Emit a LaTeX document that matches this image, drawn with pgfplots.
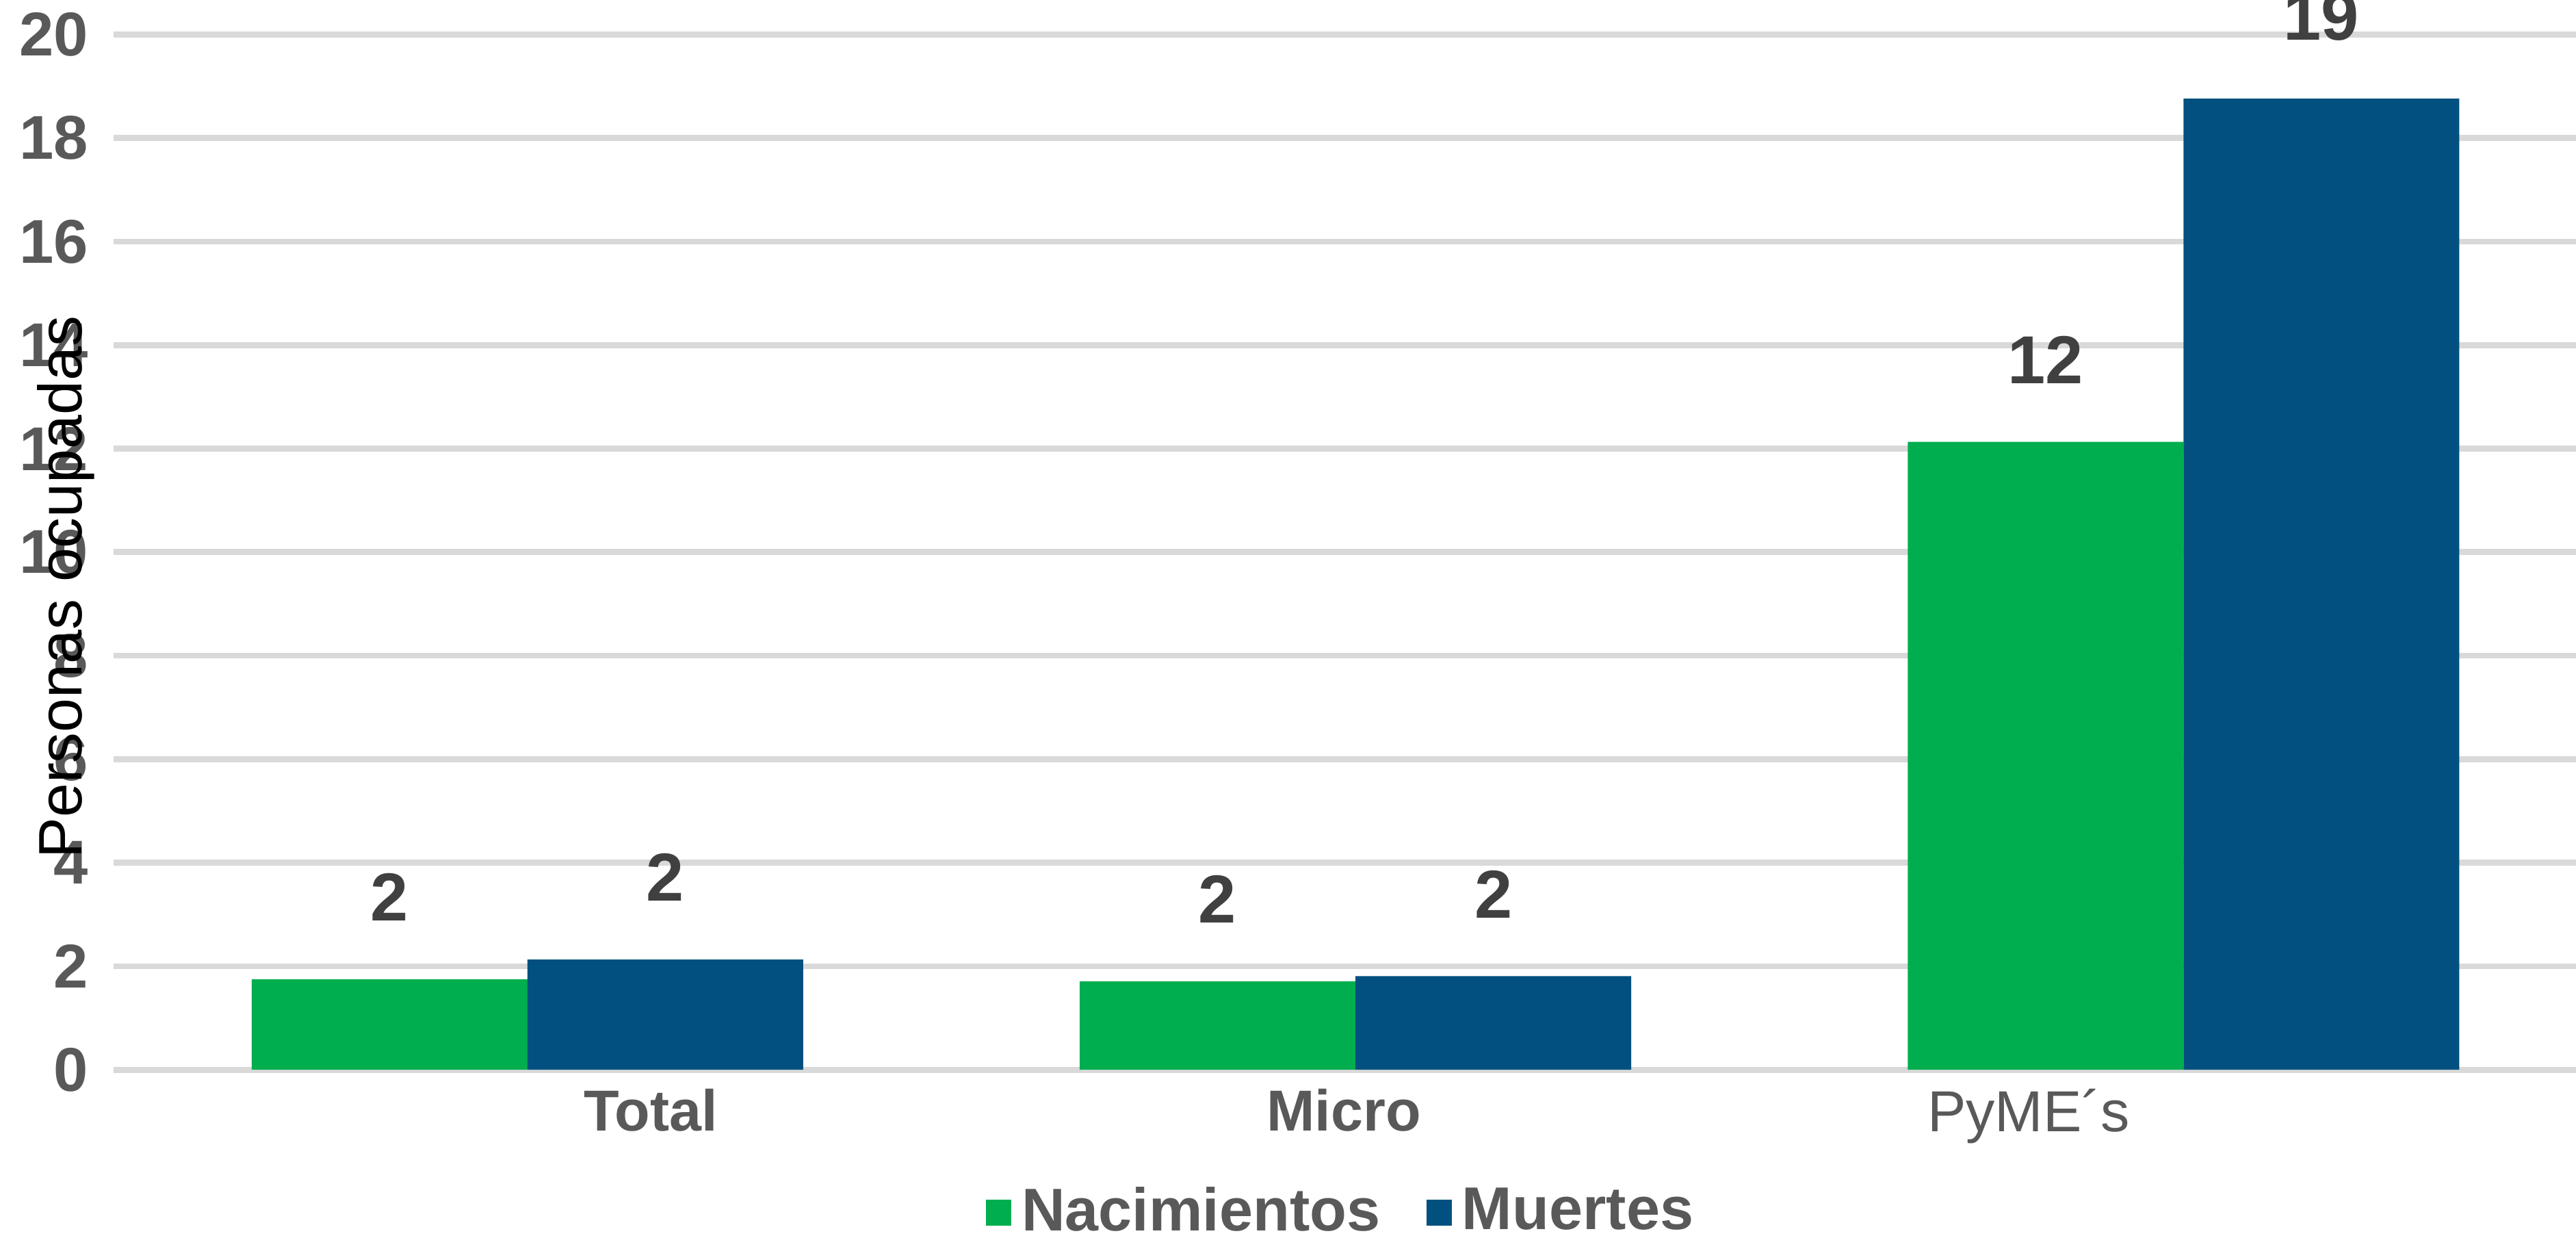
\documentclass[border=0pt]{standalone}
\usepackage{pgfplots}
\pgfplotsset{compat=1.18}
\usepackage{fontspec}
\setmainfont{Liberation Sans}
\definecolor{cgreen}{HTML}{00AE4F}
\definecolor{cblue}{HTML}{02507F}
\definecolor{tickgray}{HTML}{595959}
\definecolor{labgray}{HTML}{404040}
\definecolor{gridgray}{HTML}{D9D9D9}
\begin{document}
\begin{tikzpicture}
\begin{axis}[
  at={(0,0)}, anchor=south west,
  scale only axis, width=17.21cm, height=7.233cm,
  xmin=-0.5, xmax=2.474, ymin=0, ymax=20,
  clip=false,
  ybar=0pt, bar width=0.333,
  ytick={0,2,...,20},
  xtick={0.149,0.986,1.813},
  xticklabels={{\bfseries Total},{\bfseries Micro},{PyME´s}},
  /pgf/number format/assume math mode=true,
  axis line style={draw=none},
  tick style={draw=none},
  major tick length=0pt,
  ymajorgrids, grid style={gridgray, line width=1.2pt},
  yticklabel style={font=\bfseries\fontsize{12.3}{14}\selectfont, text=tickgray, anchor=east, inner sep=0pt, xshift=-0.17cm},
  xticklabel style={font=\fontsize{11.5}{13}\selectfont, text=tickgray, anchor=north, inner sep=0pt, yshift=-0.126cm},
  ylabel={Personas ocupadas},
  ylabel style={at={(axis description cs:-0.0193,0.466)}, anchor=center, font=\fontsize{12.2}{14}\selectfont, text=black},
  nodes near coords={\pgfmathprintnumber[fixed,precision=0]{\pgfplotspointmeta}},
  every node near coord/.append style={font=\bfseries\fontsize{13.5}{15}\selectfont, text=labgray, anchor=south, inner sep=0pt, yshift=0.4cm},
  legend style={at={(axis description cs:0.5,-0.138)}, anchor=center, draw=none, fill=none,
     legend columns=2, font=\bfseries\fontsize{12}{14}\selectfont, text=tickgray,
     /tikz/every even column/.append style={column sep=0.25cm}},
]
\addplot[fill=cgreen, draw=none,
  legend image code/.code={\fill[cgreen] (0cm,-0.09cm) rectangle (0.18cm,0.09cm);}]
  coordinates {(0,1.75) (1,1.71) (2,12.13)};
\addlegendentry{Nacimientos}
\addplot[fill=cblue, draw=none,
  legend image code/.code={\fill[cblue] (0cm,-0.09cm) rectangle (0.18cm,0.09cm);}]
  coordinates {(0,2.13) (1,1.81) (2,18.76)};
\addlegendentry{Muertes}
\end{axis}
\pgfresetboundingbox
\path[use as bounding box] (-0.792cm,-1.171cm) rectangle (17.21cm,7.474cm);
\end{tikzpicture}
\end{document}
